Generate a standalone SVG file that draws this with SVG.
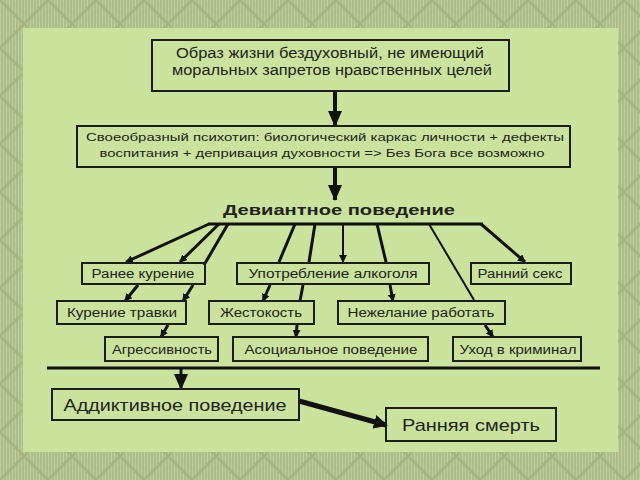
<svg xmlns="http://www.w3.org/2000/svg" width="640" height="480" viewBox="0 0 640 480">
<defs>
<pattern id="stripes" width="3" height="3" patternUnits="userSpaceOnUse">
<rect width="3" height="3" fill="#aebd88"/>
<rect width="1" height="3" fill="#bfcc9f"/>
</pattern>
<pattern id="lattice" width="48" height="48" patternUnits="userSpaceOnUse">
<path d="M0 0 L48 48 M48 0 L0 48" stroke="#9aac72" stroke-width="2.5" fill="none" opacity="0.6"/>
</pattern>
<marker id="bigHead" markerUnits="userSpaceOnUse" markerWidth="16" markerHeight="18" refX="15" refY="7" orient="auto" viewBox="0 0 16 14">
<path d="M0 0 L16 7 L0 14 Z" fill="#111"/>
</marker>
<marker id="smallHead" markerUnits="userSpaceOnUse" markerWidth="8" markerHeight="8" refX="7" refY="4" orient="auto" viewBox="0 0 8 8">
<path d="M0 0 L8 4 L0 8 Z" fill="#111"/>
</marker>
<marker id="thickHead" markerUnits="userSpaceOnUse" markerWidth="14" markerHeight="14" refX="12" refY="7" orient="auto" viewBox="0 0 14 14">
<path d="M0 0 L14 7 L0 14 Z" fill="#111"/>
</marker>
</defs>
<style>
.box{fill:none;stroke:#1c1c1c;stroke-width:2}
.t{font-family:"Liberation Sans",Arial,sans-serif;fill:#222;text-anchor:middle}
.s{font-size:12px}
.c{stroke:#111;fill:none;stroke-linecap:butt}
</style>
<rect width="640" height="480" fill="url(#stripes)"/>
<rect width="640" height="480" fill="url(#lattice)"/>
<rect x="23" y="28" width="595" height="424" fill="#cbe29c"/>

<g id="connectors">
<line class="c" x1="335" y1="91" x2="335" y2="126" stroke-width="4" marker-end="url(#bigHead)"/>
<line class="c" x1="335" y1="167" x2="335" y2="200" stroke-width="4" marker-end="url(#bigHead)"/>
<line class="c" x1="208" y1="224" x2="483" y2="224" stroke-width="3"/>
<line class="c" x1="209" y1="224" x2="126" y2="262" stroke-width="3" marker-end="url(#smallHead)"/>
<line class="c" x1="219" y1="224" x2="180" y2="262" stroke-width="3" marker-end="url(#smallHead)"/>
<line class="c" x1="228" y1="224" x2="204" y2="265" stroke-width="3"/>
<line class="c" x1="295" y1="224" x2="279" y2="262" stroke-width="3"/>
<line class="c" x1="315" y1="224" x2="309" y2="262" stroke-width="3"/>
<line class="c" x1="343" y1="224" x2="343" y2="262" stroke-width="2" marker-end="url(#smallHead)"/>
<line class="c" x1="377" y1="224" x2="386" y2="262" stroke-width="3"/>
<line class="c" x1="429" y1="224" x2="474" y2="300" stroke-width="2"/>
<line class="c" x1="481" y1="224" x2="525" y2="262" stroke-width="3" marker-end="url(#smallHead)"/>
<line class="c" x1="138" y1="285" x2="125" y2="301" stroke-width="3" marker-end="url(#smallHead)"/>
<line class="c" x1="193" y1="285" x2="183" y2="301" stroke-width="3" marker-end="url(#smallHead)"/>
<line class="c" x1="168" y1="325" x2="161" y2="337" stroke-width="3" marker-end="url(#smallHead)"/>
<line class="c" x1="270" y1="285" x2="263" y2="301" stroke-width="3" marker-end="url(#smallHead)"/>
<line class="c" x1="303" y1="285" x2="300" y2="301" stroke-width="3"/>
<line class="c" x1="297" y1="325" x2="296" y2="337" stroke-width="3" marker-end="url(#smallHead)"/>
<line class="c" x1="390" y1="285" x2="393" y2="301" stroke-width="3" marker-end="url(#smallHead)"/>
<line class="c" x1="485" y1="325" x2="493" y2="337" stroke-width="3" marker-end="url(#smallHead)"/>
<line class="c" x1="47" y1="368" x2="600" y2="368" stroke-width="3"/>
<line class="c" x1="181" y1="369" x2="181" y2="389" stroke-width="3" marker-end="url(#bigHead)"/>
<line class="c" x1="299" y1="401" x2="386" y2="425" stroke-width="5" marker-end="url(#thickHead)"/>
</g>

<g id="n-lifestyle">
<rect class="box" x="152" y="40" width="357" height="51"/>
<text class="t" x="330" y="58" font-size="14" textLength="308" lengthAdjust="spacingAndGlyphs">Образ жизни бездуховный, не имеющий</text>
<text class="t" x="332" y="75" font-size="14" textLength="320" lengthAdjust="spacingAndGlyphs">моральных запретов нравственных целей</text>
</g>
<g id="n-psychotype">
<rect class="box" x="77" y="126" width="493" height="41"/>
<text class="t" x="325" y="141" font-size="11.5" textLength="478" lengthAdjust="spacingAndGlyphs">Своеобразный психотип: биологический каркас личности + дефекты</text>
<text class="t" x="322" y="157" font-size="11.5" textLength="445" lengthAdjust="spacingAndGlyphs">воспитания + депривация духовности =&gt; Без Бога все возможно</text>
</g>
<g id="n-deviant">
<text class="t" x="339" y="215" font-size="15" font-weight="bold" textLength="232" lengthAdjust="spacingAndGlyphs">Девиантное поведение</text>
</g>
<g id="n-early-smoking">
<rect class="box" x="82" y="263" width="123" height="21"/>
<text class="t s" x="143" y="278" textLength="103" lengthAdjust="spacingAndGlyphs">Ранее курение</text>
</g>
<g id="n-alcohol">
<rect class="box" x="237" y="263" width="192" height="21"/>
<text class="t s" x="333" y="278" textLength="169" lengthAdjust="spacingAndGlyphs">Употребление алкоголя</text>
</g>
<g id="n-early-sex">
<rect class="box" x="471" y="263" width="100" height="21"/>
<text class="t s" x="520" y="278" textLength="85" lengthAdjust="spacingAndGlyphs">Ранний секс</text>
</g>
<g id="n-weed">
<rect class="box" x="57" y="301" width="129" height="23"/>
<text class="t s" x="122" y="317" textLength="110" lengthAdjust="spacingAndGlyphs">Курение травки</text>
</g>
<g id="n-cruelty">
<rect class="box" x="209" y="301" width="105" height="23"/>
<text class="t s" x="261" y="317" textLength="82" lengthAdjust="spacingAndGlyphs">Жестокость</text>
</g>
<g id="n-nowork">
<rect class="box" x="338" y="301" width="167" height="23"/>
<text class="t s" x="421" y="317" textLength="147" lengthAdjust="spacingAndGlyphs">Нежелание работать</text>
</g>
<g id="n-aggression">
<rect class="box" x="105" y="337" width="113" height="24"/>
<text class="t s" x="162" y="354" textLength="100" lengthAdjust="spacingAndGlyphs">Агрессивность</text>
</g>
<g id="n-asocial">
<rect class="box" x="233" y="337" width="195" height="24"/>
<text class="t s" x="331" y="354" textLength="173" lengthAdjust="spacingAndGlyphs">Асоциальное поведение</text>
</g>
<g id="n-crime">
<rect class="box" x="453" y="337" width="128" height="24"/>
<text class="t s" x="518" y="354" textLength="117" lengthAdjust="spacingAndGlyphs">Уход в криминал</text>
</g>
<g id="n-addictive">
<rect class="box" x="52" y="389" width="247" height="31" stroke-width="1.5"/>
<text class="t" x="175" y="411" font-size="17" textLength="223" lengthAdjust="spacingAndGlyphs">Аддиктивное поведение</text>
</g>
<g id="n-death">
<rect class="box" x="386" y="408" width="170" height="33" stroke-width="1.5"/>
<text class="t" x="471" y="431" font-size="17" textLength="138" lengthAdjust="spacingAndGlyphs">Ранняя смерть</text>
</g>
</svg>
